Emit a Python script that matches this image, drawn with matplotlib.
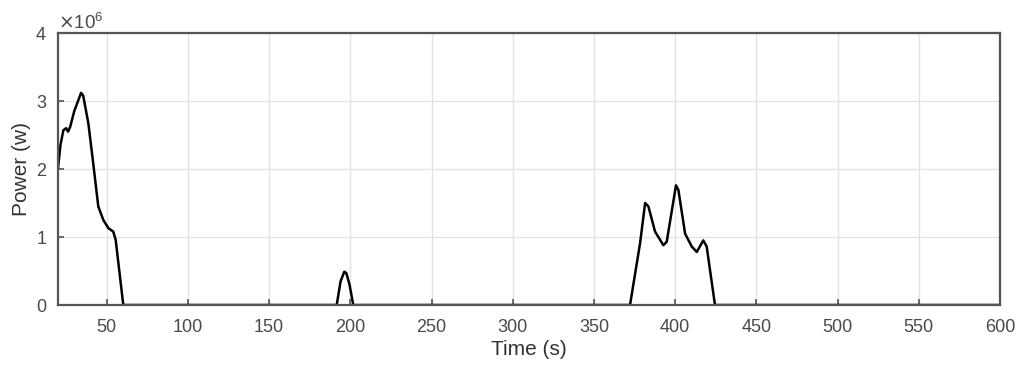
import matplotlib
matplotlib.use("Agg")
import matplotlib.pyplot as plt
import numpy as np

plt.rcParams['font.family'] = ['Liberation Sans', 'DejaVu Sans']

# Time (s) and power (W)
time_s = [20, 21.5, 23.3, 25, 26.2, 27.5, 30, 34.2, 35.5, 38.7, 41.7, 44.8, 47.9, 51, 54, 55.5, 60.2,
          191.6, 194, 196.3, 197.5, 199.5, 201.8,
          372.2, 378.4, 381.5, 383.5, 387.6, 392.7, 394.8, 400.5, 402, 406.1, 410.2, 413.3, 417.3, 419.4, 424.5,
          600]
power_w = [2.01e6, 2.35e6, 2.57e6, 2.60e6, 2.55e6, 2.62e6, 2.85e6, 3.12e6, 3.08e6, 2.67e6, 2.08e6, 1.45e6, 1.25e6, 1.13e6, 1.08e6, 0.96e6, 0.0,
           0.0, 0.35e6, 0.49e6, 0.47e6, 0.30e6, 0.0,
           0.0, 0.91e6, 1.50e6, 1.45e6, 1.08e6, 0.88e6, 0.93e6, 1.76e6, 1.69e6, 1.05e6, 0.86e6, 0.78e6, 0.95e6, 0.86e6, 0.0,
           0.0]

x_ticks = [50, 100, 150, 200, 250, 300, 350, 400, 450, 500, 550, 600]
y_ticks = [0, 1e6, 2e6, 3e6, 4e6]

fig = plt.figure(figsize=(10.24, 3.79), dpi=100)
ax = fig.add_axes([58/1024, 74/379, 942/1024, 272/379])

ax.plot(time_s, power_w, color='black', lw=1.8)

ax.set_xlim(20, 600)
ax.set_ylim(0, 4e6)
ax.set_xticks(x_ticks)
ax.set_yticks(y_ticks)
ax.ticklabel_format(axis='y', style='sci', scilimits=(6, 6), useMathText=True)

tc = '#4a4a4a'
ax.grid(True, color='#e3e3e3', lw=1.0)
ax.set_axisbelow(True)
for s in ax.spines.values():
    s.set_color('#555555')
    s.set_linewidth(1.6)
ax.tick_params(direction='in', length=4, width=1.2, colors='#555555', labelcolor=tc, labelsize=13)
ax.tick_params(axis='x', pad=10)
ax.tick_params(axis='y', pad=8)
ax.yaxis.get_offset_text().set_fontsize(13.5)
ax.yaxis.get_offset_text().set_color(tc)

ax.set_xlabel('Time (s)', fontsize=15, color='#333333', labelpad=3)
ax.set_ylabel('Power (w)', fontsize=15, color='#333333', labelpad=3)

fig.savefig('out.png', dpi=100)
